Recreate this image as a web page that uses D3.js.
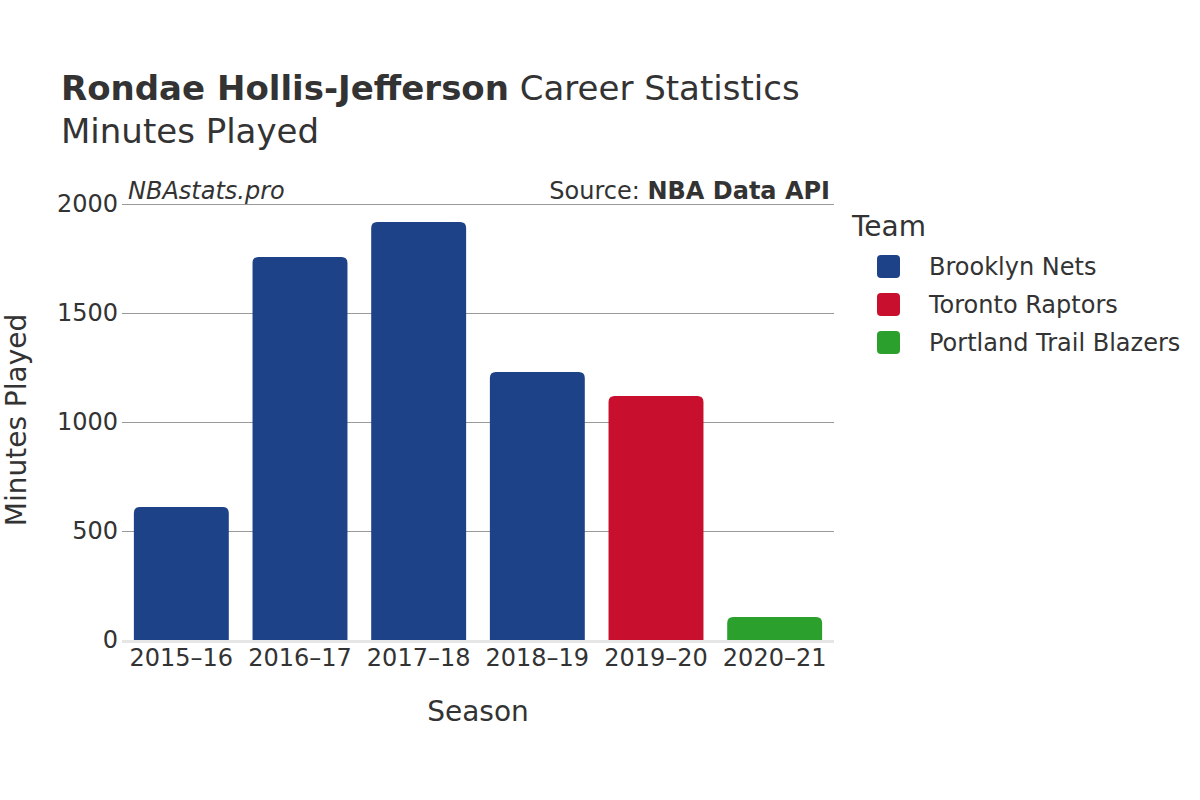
<!DOCTYPE html>
<html><head><meta charset="utf-8">
<script src="https://cdn.jsdelivr.net/npm/d3@7"></script>
<style>body{margin:0;background:#fff;} text{font-family:"DejaVu Sans",sans-serif;fill:#333;}</style>
</head><body>
<svg id="c" width="1200" height="800"></svg>
<script>
const seasons = ["2015–16","2016–17","2017–18","2018–19","2019–20","2020–21"];
const minutes = [610, 1757, 1917, 1229, 1119, 105];
const teams = ["Brooklyn Nets","Brooklyn Nets","Brooklyn Nets","Brooklyn Nets","Toronto Raptors","Portland Trail Blazers"];
const teamNames = ["Brooklyn Nets","Toronto Raptors","Portland Trail Blazers"];
const teamColors = ["#1d4287","#c8102e","#2ca02c"];
const yTicks = [0, 500, 1000, 1500, 2000];

const svg = d3.select("#c");
const m = {l:122, r:834, t:204, b:640};
const x = d3.scaleBand().domain(seasons).range([m.l, m.r]).paddingInner(0.2).paddingOuter(0.1);
const y = d3.scaleLinear().domain([0, 2000]).range([m.b, m.t]);
const color = d3.scaleOrdinal().domain(teamNames).range(teamColors);

// grid
svg.append("g").selectAll("line").data(yTicks.filter(d=>d>0)).join("line")
  .attr("x1", m.l).attr("x2", m.r).attr("y1", d=>Math.round(y(d))+0.5).attr("y2", d=>Math.round(y(d))+0.5)
  .attr("stroke", "#999").attr("stroke-width", 1);
svg.append("line").attr("x1", m.l).attr("x2", m.r).attr("y1", y(0)+1.5).attr("y2", y(0)+1.5)
  .attr("stroke", "#e6e6e6").attr("stroke-width", 3);

// y tick labels
svg.append("g").selectAll("text").data(yTicks).join("text")
  .attr("x", m.l-4).attr("y", d=>y(d)).attr("dy", "0.35em").attr("text-anchor", "end")
  .style("font-size", "24px").text(d=>d);

// bars with rounded tops
const r = 6;
svg.append("g").selectAll("path").data(seasons).join("path")
  .attr("fill", (d,i)=>color(teams[i]))
  .attr("d", (d,i)=>{
    const x0 = x(d), w = x.bandwidth(), y0 = y(minutes[i]), yb = y(0);
    const rr = Math.min(r, (yb-y0)/2);
    return `M${x0},${yb}V${y0+rr}Q${x0},${y0} ${x0+rr},${y0}H${x0+w-rr}Q${x0+w},${y0} ${x0+w},${y0+rr}V${yb}Z`;
  });

// x labels
svg.append("g").selectAll("text").data(seasons).join("text")
  .attr("x", d=>x(d)+x.bandwidth()/2).attr("y", 666).attr("text-anchor", "middle")
  .style("font-size", "24px").text(d=>d);

// axis titles
svg.append("text").attr("x", 478).attr("y", 721).attr("text-anchor", "middle").style("font-size", "28px").text("Season");
svg.append("text").attr("transform", "translate(26,420) rotate(-90)").attr("text-anchor", "middle").style("font-size", "28px").text("Minutes Played");

// title
const t = svg.append("text").attr("x", 61).attr("y", 100).style("font-size", "34px");
t.append("tspan").style("font-weight", "bold").text("Rondae Hollis-Jefferson");
t.append("tspan").text(" Career Statistics");
svg.append("text").attr("x", 61).attr("y", 143).style("font-size", "34px").text("Minutes Played");

svg.append("text").attr("x", 128).attr("y", 199).style("font-size", "24px").style("font-style", "italic").text("NBAstats.pro");
const s = svg.append("text").attr("x", 830).attr("y", 199).attr("text-anchor", "end").style("font-size", "24px");
s.append("tspan").text("Source: ");
s.append("tspan").style("font-weight", "bold").text("NBA Data API");

// legend
svg.append("text").attr("x", 852).attr("y", 236).style("font-size", "28px").text("Team");
const lg = svg.append("g").selectAll("g").data(teamNames).join("g")
  .attr("transform", (d,i)=>`translate(0,${266+i*38})`);
lg.append("rect").attr("x", 877).attr("y", -11).attr("width", 23).attr("height", 23).attr("rx", 4)
  .attr("fill", d=>color(d));
lg.append("text").attr("x", 929).attr("y", 1).attr("dy", "0.35em").style("font-size", "24px").text(d=>d);
</script>
</body></html>
